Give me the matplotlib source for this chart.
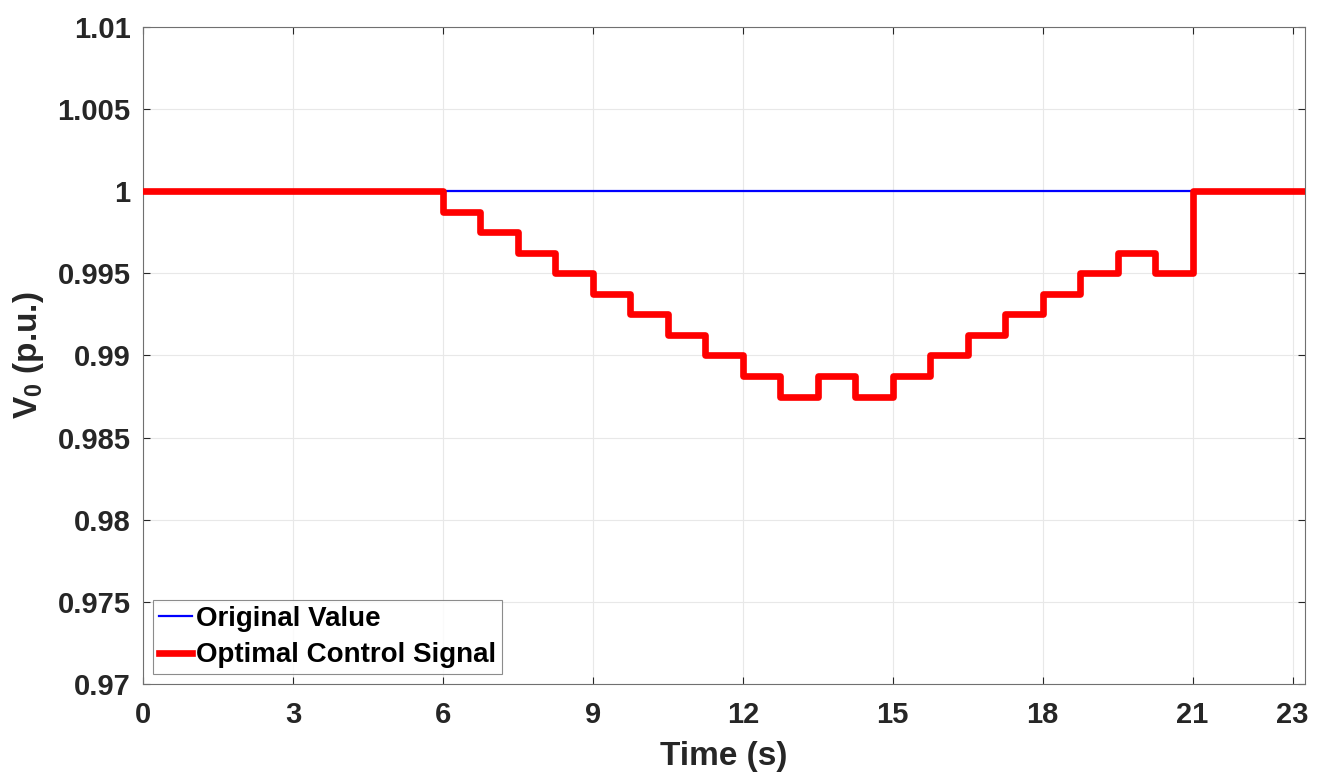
import matplotlib.pyplot as plt
import numpy as np

plt.rcParams['font.family'] = ['Liberation Sans', 'DejaVu Sans']
plt.rcParams['font.weight'] = 'bold'
plt.rcParams['mathtext.fontset'] = 'custom'
plt.rcParams['mathtext.bf'] = 'Liberation Sans:bold'

# step edges (s) and the control signal value held from each edge
t_steps = [0, 6.0, 6.75, 7.5, 8.25, 9.0, 9.75, 10.5, 11.25, 12.0, 12.75, 13.5,
           14.25, 15.0, 15.75, 16.5, 17.25, 18.0, 18.75, 19.5, 20.25, 21.0, 23.25]
v_ctrl = [1.0, 0.99875, 0.9975, 0.99625, 0.995, 0.99375, 0.9925, 0.99125, 0.99,
          0.98875, 0.9875, 0.98875, 0.9875, 0.98875, 0.99, 0.99125, 0.9925,
          0.99375, 0.995, 0.99625, 0.995, 1.0, 1.0]
t_orig = [0, 23.25]
v_orig = [1.0, 1.0]

xticks = [0, 3, 6, 9, 12, 15, 18, 21, 23]
yticks = [0.97, 0.975, 0.98, 0.985, 0.99, 0.995, 1.0, 1.005, 1.01]
yticklabels = ['0.97', '0.975', '0.98', '0.985', '0.99', '0.995', '1', '1.005', '1.01']

fig = plt.figure(figsize=(13.29, 7.76), dpi=100)
ax = fig.add_axes([0.1076, 0.1186, 0.8744, 0.8466])

ax.plot(t_orig, v_orig, color='#0000ff', lw=1.6, label='Original Value', zorder=3)
ax.plot(t_steps, v_ctrl, color='#ff0000', lw=4.8, drawstyle='steps-post',
        label='Optimal Control Signal', zorder=4)

ax.set_xlim(0, 23.25)
ax.set_ylim(0.97, 1.01)
ax.set_xticks(xticks)
ax.set_yticks(yticks)
ax.set_yticklabels(yticklabels)
ax.tick_params(direction='in', labelsize=21, colors='#262626', length=5,
               top=True, right=True)
ax.tick_params(axis='x', pad=12)
ax.tick_params(axis='y', pad=9)
for s in ax.spines.values():
    s.set_color('#707070')
    s.set_linewidth(0.8)
ax.grid(True, color='#e8e8e8', lw=0.8)
ax.set_axisbelow(True)

ax.set_xlabel('Time (s)', fontsize=24, fontweight='bold', color='#262626', labelpad=9)
ax.set_ylabel('V$_\\mathbf{0}$ (p.u.)', fontsize=24, fontweight='bold',
              color='#262626', labelpad=8)

leg = ax.legend(loc='lower left', fontsize=20, frameon=True, fancybox=False,
                edgecolor='#707070', handlelength=1.2, handletextpad=0.15,
                borderpad=0.2, labelspacing=0.38, borderaxespad=0.36)
leg.get_frame().set_linewidth(0.8)
for txt in leg.get_texts():
    txt.set_fontweight('bold')
    txt.set_color('black')

fig.savefig('out.png', dpi=100)
